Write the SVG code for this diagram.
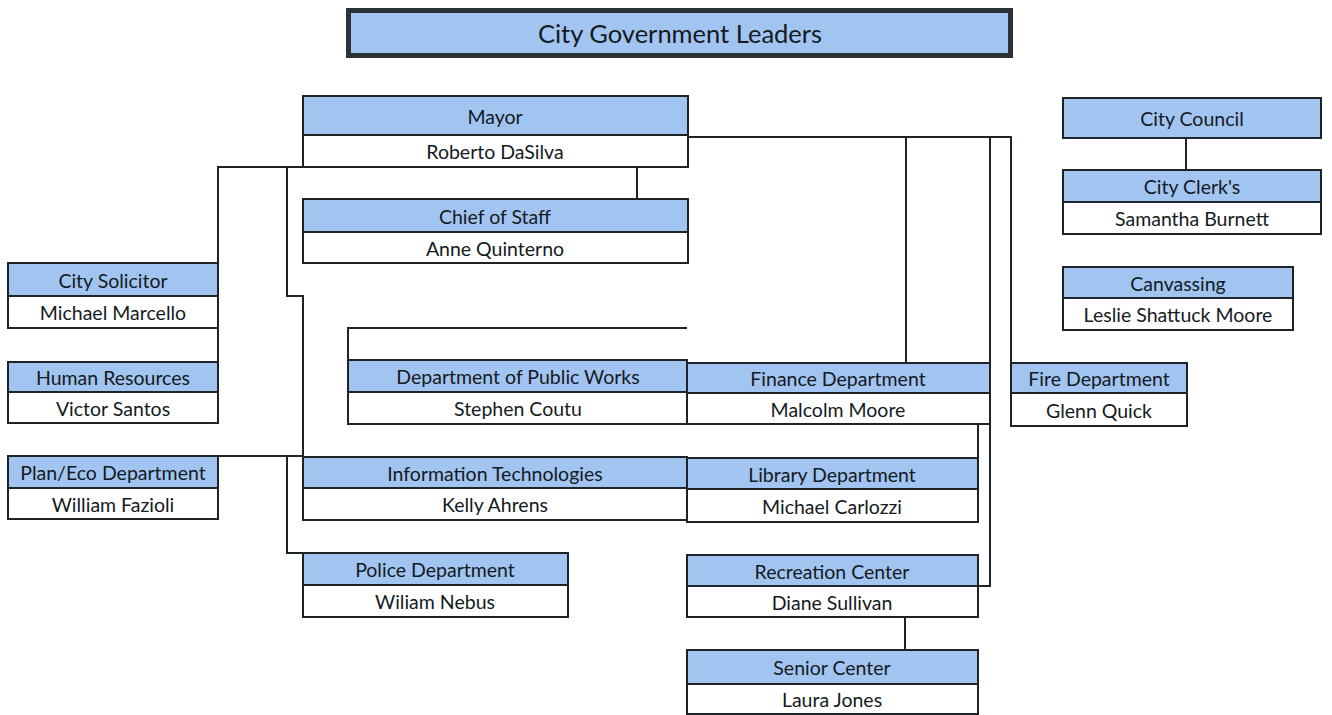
<svg xmlns="http://www.w3.org/2000/svg" width="1332" height="715" viewBox="0 0 1332 715">
<style>
.h{fill:#a2c4f1;stroke:#1e2328;stroke-width:2}
.n{fill:#ffffff;stroke:#1e2328;stroke-width:2}
.t{font-family:Lato,"Open Sans","Liberation Sans",sans-serif;font-size:19.5px;fill:#141a22;text-anchor:middle;dominant-baseline:central}
.c{fill:none;stroke:#1e2328;stroke-width:2}
</style>
<rect width="1332" height="715" fill="#ffffff"/>
<g id="title">
<rect x="348.5" y="10.5" width="662" height="45" fill="#a2c4f1" stroke="#2b3238" stroke-width="5"/>
<text class="t" x="680" y="33" style="font-size:25.5px">City Government Leaders</text>
</g>
<g id="connectors">
<path class="c" d="M688 137 H1011 V363"/>
<path class="c" d="M906 137 V363"/>
<path class="c" d="M990 137 V586 H978"/>
<path class="c" d="M978 424 V458"/>
<path class="c" d="M637 167 V199"/>
<path class="c" d="M303 167 H218 V263"/>
<path class="c" d="M287 167 V296 H303 V457"/>
<path class="c" d="M218 328 V362"/>
<path class="c" d="M218 456 H303"/>
<path class="c" d="M287 456 V553 H303"/>
<path class="c" d="M687 328 H348 V360"/>
<path class="c" d="M905 617 V650"/>
<path class="c" d="M1186 138 V170"/>
</g>
<g id="mayor">
<rect class="h" x="303" y="96" width="385" height="39"/><rect class="n" x="303" y="135" width="385" height="32"/>
<text class="t" x="495" y="116">Mayor</text><text class="t" x="495" y="151.5">Roberto DaSilva</text>
</g>
<g id="chief-of-staff">
<rect class="h" x="303" y="199" width="385" height="33"/><rect class="n" x="303" y="232" width="385" height="31"/>
<text class="t" x="495" y="216">Chief of Staff</text><text class="t" x="495" y="248">Anne Quinterno</text>
</g>
<g id="city-solicitor">
<rect class="h" x="8" y="263" width="210" height="33"/><rect class="n" x="8" y="296" width="210" height="32"/>
<text class="t" x="113" y="280">City Solicitor</text><text class="t" x="113" y="312.5">Michael Marcello</text>
</g>
<g id="human-resources">
<rect class="h" x="8" y="362" width="210" height="30"/><rect class="n" x="8" y="392" width="210" height="31"/>
<text class="t" x="113" y="377.5">Human Resources</text><text class="t" x="113" y="408">Victor Santos</text>
</g>
<g id="plan-eco">
<rect class="h" x="8" y="456" width="210" height="32"/><rect class="n" x="8" y="488" width="210" height="31"/>
<text class="t" x="113" y="472.5">Plan/Eco Department</text><text class="t" x="113" y="504">William Fazioli</text>
</g>
<g id="public-works">
<rect class="h" x="348" y="360" width="339" height="32"/><rect class="n" x="348" y="392" width="339" height="32"/>
<text class="t" x="518" y="376.5">Department of Public Works</text><text class="t" x="518" y="408.5">Stephen Coutu</text>
</g>
<g id="finance">
<rect class="h" x="687" y="363" width="303" height="30"/><rect class="n" x="687" y="393" width="303" height="31"/>
<text class="t" x="838" y="378.5">Finance Department</text><text class="t" x="838" y="409">Malcolm Moore</text>
</g>
<g id="fire">
<rect class="h" x="1011" y="363" width="176" height="30"/><rect class="n" x="1011" y="393" width="176" height="33"/>
<text class="t" x="1099" y="378.5">Fire Department</text><text class="t" x="1099" y="410">Glenn Quick</text>
</g>
<g id="information-technologies">
<rect class="h" x="303" y="457" width="384" height="31"/><rect class="n" x="303" y="488" width="384" height="32"/>
<text class="t" x="495" y="473">Information Technologies</text><text class="t" x="495" y="504.5">Kelly Ahrens</text>
</g>
<g id="library">
<rect class="h" x="687" y="458" width="291" height="31"/><rect class="n" x="687" y="489" width="291" height="33"/>
<text class="t" x="832" y="474">Library Department</text><text class="t" x="832" y="506">Michael Carlozzi</text>
</g>
<g id="police">
<rect class="h" x="303" y="553" width="265" height="32"/><rect class="n" x="303" y="585" width="265" height="32"/>
<text class="t" x="435" y="569.5">Police Department</text><text class="t" x="435" y="601.5">Wiliam Nebus</text>
</g>
<g id="recreation">
<rect class="h" x="687" y="555" width="291" height="31"/><rect class="n" x="687" y="586" width="291" height="31"/>
<text class="t" x="832" y="571">Recreation Center</text><text class="t" x="832" y="602">Diane Sullivan</text>
</g>
<g id="senior-center">
<rect class="h" x="687" y="650" width="291" height="34"/><rect class="n" x="687" y="684" width="291" height="30"/>
<text class="t" x="832" y="667.5">Senior Center</text><text class="t" x="832" y="699.5">Laura Jones</text>
</g>
<g id="city-council">
<rect class="h" x="1063" y="98" width="258" height="40"/>
<text class="t" x="1192" y="118.5">City Council</text>
</g>
<g id="city-clerk">
<rect class="h" x="1063" y="170" width="258" height="32"/><rect class="n" x="1063" y="202" width="258" height="32"/>
<text class="t" x="1192" y="186.5">City Clerk's</text><text class="t" x="1192" y="218.5">Samantha Burnett</text>
</g>
<g id="canvassing">
<rect class="h" x="1063" y="267" width="230" height="31"/><rect class="n" x="1063" y="298" width="230" height="32"/>
<text class="t" x="1178" y="283">Canvassing</text><text class="t" x="1178" y="314.5">Leslie Shattuck Moore</text>
</g>
</svg>
